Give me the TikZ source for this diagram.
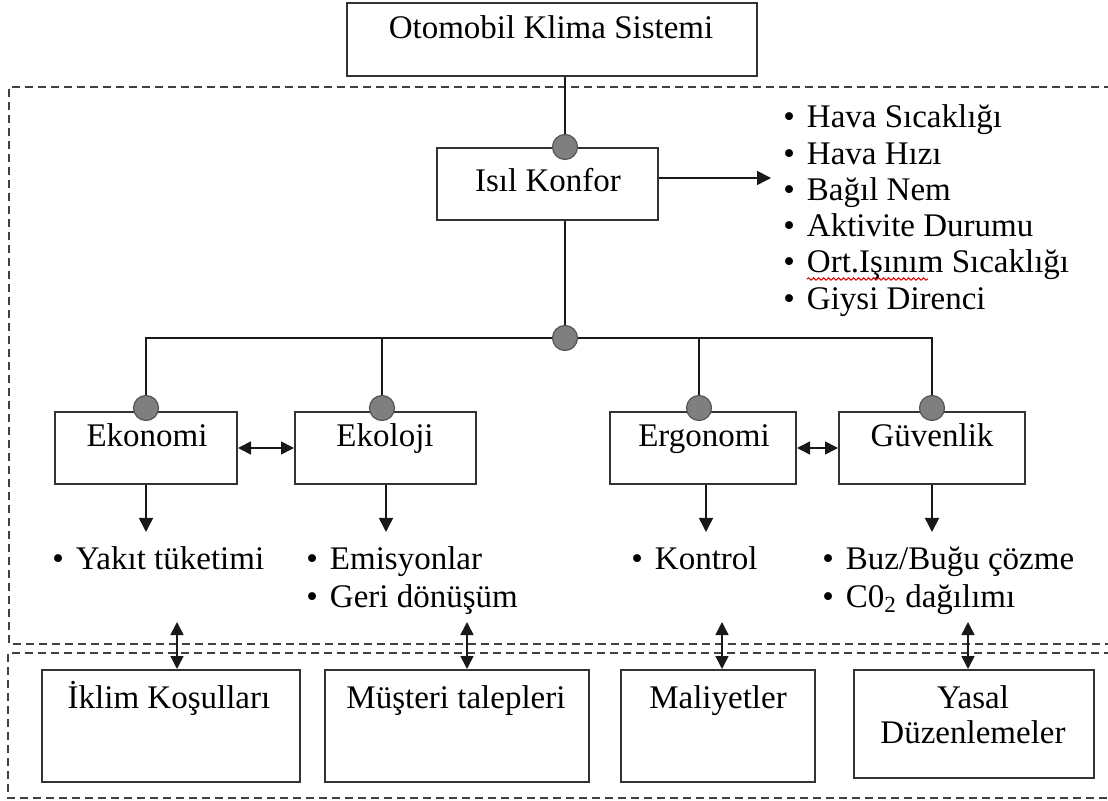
\documentclass[tikz,border=0pt]{standalone}
\usepackage{fontspec}
\setmainfont{Liberation Serif}
\usetikzlibrary{arrows.meta,decorations.pathmorphing}
\definecolor{jointfill}{HTML}{7F7F7F}
\definecolor{jointline}{HTML}{555555}
\begin{document}
\begin{tikzpicture}[x=0.5pt,y=-0.5pt,
  every node/.style={font=\fontsize{16.5}{19}\selectfont},
  box/.style={draw=black!80,line width=1pt,inner sep=0,rectangle},
  joint/.style={circle,fill=jointfill,draw=jointline,line width=0.6pt,minimum size=12.5pt,inner sep=0},
  conn/.style={draw=black!90,line width=0.8pt},
  arr/.style={conn,-{Triangle[length=7pt,width=7pt]}},
  darr/.style={conn,{Triangle[length=6.5pt,width=6.5pt]}-{Triangle[length=6.5pt,width=6.5pt]}},
  frame/.style={draw=black!75,line width=0.8pt,dash pattern=on 4pt off 2.5pt},
  lbl/.style={anchor=base,inner sep=0},
  bul/.style={anchor=base west,inner sep=0}]
\useasboundingbox (0,0) rectangle (1108,801);
\clip (0,0) rectangle (1108,801);
% dashed frames
\draw[frame] (1125,87) -- (9,87) -- (9,644) -- (1125,644);
\draw[frame] (1125,653) -- (8,653) -- (8,798) -- (1125,798);
% boxes
\node[box,minimum width=205pt,minimum height=36.5pt] (top) at (552,39.5) {};
\node[box,minimum width=110.5pt,minimum height=36pt] (isil) at (547.5,184) {};
\node[box,minimum width=91pt,minimum height=36pt] (eko) at (146,448) {};
\node[box,minimum width=90.5pt,minimum height=36pt] (ekol) at (385.5,448) {};
\node[box,minimum width=93pt,minimum height=36pt] (ergo) at (703,448) {};
\node[box,minimum width=93pt,minimum height=36pt] (guv) at (932,448) {};
\node[box,minimum width=129pt,minimum height=56pt] (b1) at (171,726) {};
\node[box,minimum width=132pt,minimum height=56pt] (b2) at (457,726) {};
\node[box,minimum width=97pt,minimum height=56pt] (b3) at (718,726) {};
\node[box,minimum width=120pt,minimum height=54pt] (b4) at (974,724) {};
% labels
\node[lbl] (ttop) at (551,39) {Otomobil Klima Sistemi};
\node[lbl] (tisil) at (548,192) {Isıl Konfor};
\node[lbl] (teko) at (147,447) {Ekonomi};
\node[lbl] (tekol) at (385,447) {Ekoloji};
\node[lbl] (tergo) at (704,447) {Ergonomi};
\node[lbl] (tguv) at (932,447) {Güvenlik};
\node[lbl] (tb1) at (169,708) {İklim Koşulları};
\node[lbl] (tb2) at (456,708) {Müşteri talepleri};
\node[lbl] (tb3) at (718,708) {Maliyetler};
\node[lbl] (tb4a) at (973,708) {Yasal};
\node[lbl] (tb4b) at (973,743) {Düzenlemeler};
% joints
\node[joint] (c0) at (565,147) {};
\node[joint] (c1) at (565,338) {};
\node[joint] (ce1) at (146,408) {};
\node[joint] (ce2) at (382,408) {};
\node[joint] (ce3) at (699,408) {};
\node[joint] (ce4) at (932,408) {};
% connectors
\draw[conn] (c0) -- (c0 |- top.south);
\draw[conn] (c1) -- (c1 |- isil.south);
\draw[conn] (ce1) |- (c1);
\draw[conn] (ce2) |- (c1);
\draw[conn] (ce3) |- (c1);
\draw[conn] (ce4) |- (c1);
\coordinate (lst) at (771,178);
\draw[arr] (isil.east |- lst) -- (lst);
\draw[darr] (eko) -- (ekol);
\draw[darr] (ergo) -- (guv);
\coordinate (d1) at (146,532);
\coordinate (d2) at (386,532);
\coordinate (d3) at (706,532);
\coordinate (d4) at (932,532);
\draw[arr] (d1 |- eko.south) -- (d1);
\draw[arr] (d2 |- ekol.south) -- (d2);
\draw[arr] (d3 |- ergo.south) -- (d3);
\draw[arr] (d4 |- guv.south) -- (d4);
\coordinate (u1) at (177,622);
\coordinate (u2) at (467,622);
\coordinate (u3) at (722,622);
\coordinate (u4) at (968,622);
\draw[darr] (u1) -- (u1 |- b1.north);
\draw[darr] (u2) -- (u2 |- b2.north);
\draw[darr] (u3) -- (u3 |- b3.north);
\draw[darr] (u4) -- (u4 |- b4.north);
% bullet lists
\node[bul] (h1) at (783,128) {•\hspace{6pt}Hava Sıcaklığı};
\node[bul] (h2) at (783,165) {•\hspace{6pt}Hava Hızı};
\node[bul] (h3) at (783,201) {•\hspace{6pt}Bağıl Nem};
\node[bul] (h4) at (783,237) {•\hspace{6pt}Aktivite Durumu};
\node[bul] (h5) at (783,273) {•\hspace{6pt}Ort.Işınım Sıcaklığı};
\node[bul] (h6) at (783,310) {•\hspace{6pt}Giysi Direnci};
\draw[red!85!black,line width=0.5pt,decorate,decoration={snake,amplitude=0.6pt,segment length=2.5pt}] (807,279) -- (928,279);
\node[bul] (y1) at (52,570) {•\hspace{6pt}Yakıt tüketimi};
\node[bul] (e1) at (306,570) {•\hspace{6pt}Emisyonlar};
\node[bul] (e2) at (306,607) {•\hspace{6pt}Geri dönüşüm};
\node[bul] (k1) at (631,570) {•\hspace{6pt}Kontrol};
\node[bul] (g1) at (822,570) {•\hspace{6pt}Buz/Buğu çözme};
\node[bul] (g2) at (822,607) {•\hspace{6pt}C0\textsubscript{2} dağılımı};
\end{tikzpicture}
\end{document}
